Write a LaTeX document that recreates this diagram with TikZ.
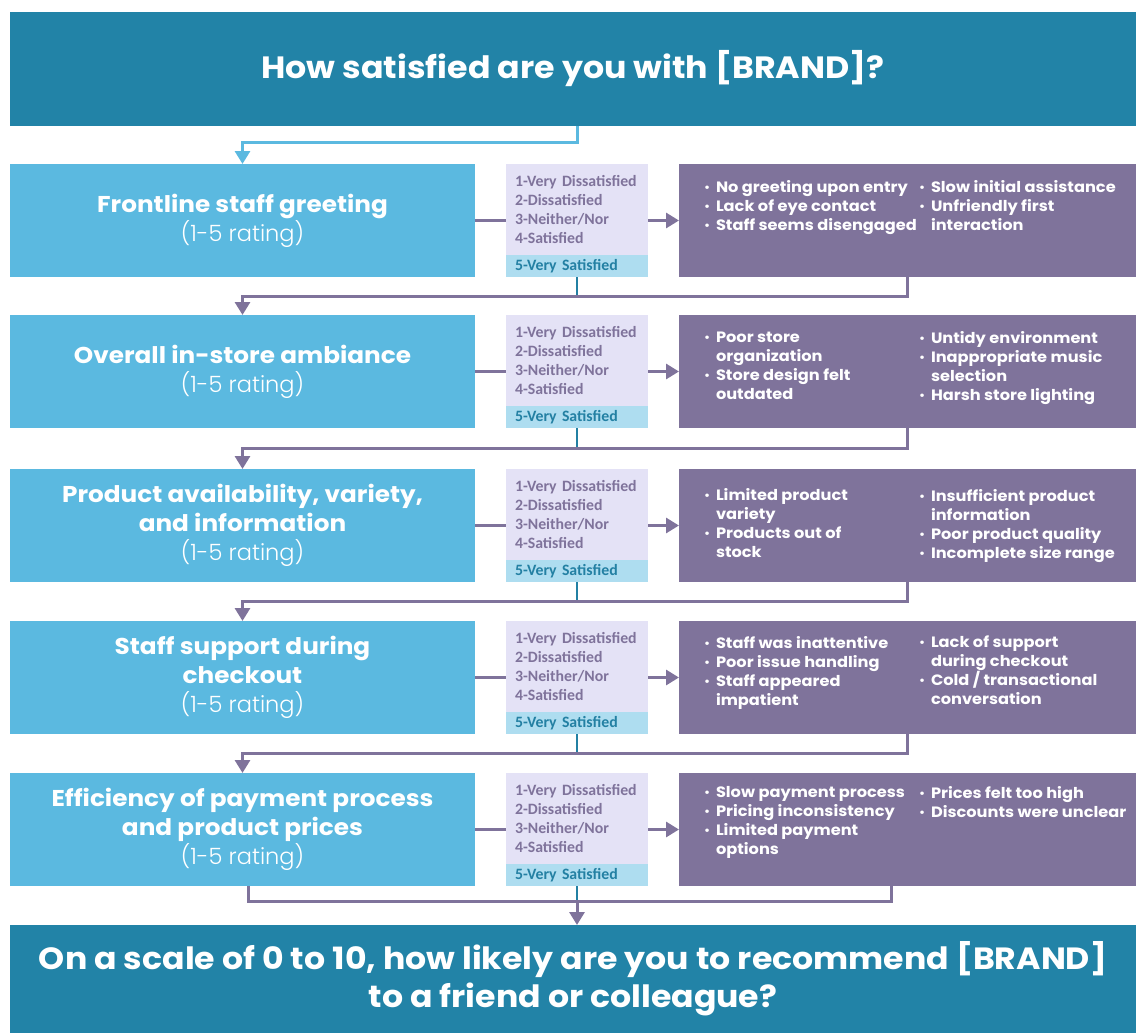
\documentclass[tikz,border=0pt]{standalone}
\usepackage{fontspec}
\setmainfont[FakeStretch=1.08]{Poppins}
\newfontfamily\ratefont{Carlito}
\IfFontExistsTF{Poppins Light}{\newfontfamily\thinfont{Poppins Light}}{\newfontfamily\thinfont{Poppins}}
\usetikzlibrary{arrows.meta,calc}
\definecolor{headteal}{RGB}{34,131,167}
\definecolor{skyblue}{RGB}{91,185,224}
\definecolor{lavender}{RGB}{228,226,246}
\definecolor{paleblue}{RGB}{174,221,240}
\definecolor{plum}{RGB}{127,115,155}
\definecolor{darkteal}{RGB}{35,128,163}
\newcommand\bul{\makebox[12pt][l]{\raisebox{1pt}{\scalebox{0.75}{\textbullet}}}}
\newcommand\hng{\hspace*{12pt}}
\begin{document}
\begin{tikzpicture}[x=1pt,y=-1pt,every node/.style={inner sep=0pt, outer sep=0pt},
  question/.style={anchor=north west, fill=headteal, minimum width=1126pt, text=white, align=center},
  topic/.style={anchor=north west, fill=skyblue, minimum width=465pt, minimum height=113pt, text=white, align=center, font=\fontsize{22.9}{29}\selectfont},
  rate/.style={anchor=north west, fill=lavender, minimum width=142pt, minimum height=91pt, text width=124pt, align=left, text=plum, font=\ratefont\fontsize{15.8}{19}\selectfont\bfseries},
  topfive/.style={rate, fill=paleblue, minimum height=22pt, text=darkteal},
  issue/.style={anchor=north west, fill=plum, minimum width=457pt, minimum height=113pt},
  issuetext/.style={anchor=north west, align=left, text=white, font=\fontsize{15}{19}\selectfont\bfseries},
  line/.style={draw=plum, line width=3pt},
  flow/.style={line, -{Triangle[width=15pt,length=13pt]}},
  stem/.style={draw=darkteal, line width=2.5pt}]
\useasboundingbox (0,0) rectangle (1136,1033);
% questions
\node[question, minimum height=114pt, font=\fontsize{30.8}{34}\selectfont\bfseries] (q) at (10,12) {How satisfied are you with [BRAND]?};
\node[question, minimum height=108pt, font=\fontsize{30.7}{38}\selectfont\bfseries] (nps) at (10,925) {On a scale of 0 to 10, how likely are you to recommend [BRAND]\\to a friend or colleague?};
% row 1
\node[topic] (g1) at (10,164) {\textbf{Frontline staff greeting}\\{\thinfont\fontsize{22.5}{29}\selectfont (1-5 rating)}};
\node[rate] (r1) at (506,164) {1-Very Dissatisfied\\2-Dissatisfied\\3-Neither/Nor\\4-Satisfied};
\node[topfive] (s1) at (506,255) {5-Very Satisfied};
\node[issue] (p1) at (679,164) {};
\node[issuetext] (p1a) at (704,180) {\bul No greeting upon entry\\\bul Lack of eye contact\\\bul Staff seems disengaged};
\node[issuetext] (p1b) at (919,180) {\bul Slow initial assistance\\\bul Unfriendly first\\\hng interaction};
% row 2
\node[topic] (g2) at (10,315) {\textbf{Overall in-store ambiance}\\{\thinfont\fontsize{22.5}{29}\selectfont (1-5 rating)}};
\node[rate] (r2) at (506,315) {1-Very Dissatisfied\\2-Dissatisfied\\3-Neither/Nor\\4-Satisfied};
\node[topfive] (s2) at (506,406) {5-Very Satisfied};
\node[issue] (p2) at (679,315) {};
\node[issuetext] (p2a) at (704,332) {\bul Poor store\\\hng organization\\\bul Store design felt\\\hng outdated};
\node[issuetext] (p2b) at (919,331) {\bul Untidy environment\\\bul Inappropriate music\\\hng selection\\\bul Harsh store lighting};
% row 3
\node[topic] (g3) at (10,469) {\textbf{Product availability, variety,}\\\textbf{and information}\\{\thinfont\fontsize{22.5}{29}\selectfont (1-5 rating)}};
\node[rate] (r3) at (506,469) {1-Very Dissatisfied\\2-Dissatisfied\\3-Neither/Nor\\4-Satisfied};
\node[topfive] (s3) at (506,560) {5-Very Satisfied};
\node[issue] (p3) at (679,469) {};
\node[issuetext] (p3a) at (704,488) {\bul Limited product\\\hng variety\\\bul Products out of\\\hng stock};
\node[issuetext] (p3b) at (919,489) {\bul Insufficient product\\\hng information\\\bul Poor product quality\\\bul Incomplete size range};
% row 4
\node[topic] (g4) at (10,621) {\textbf{Staff support during}\\\textbf{checkout}\\{\thinfont\fontsize{22.5}{29}\selectfont (1-5 rating)}};
\node[rate] (r4) at (506,621) {1-Very Dissatisfied\\2-Dissatisfied\\3-Neither/Nor\\4-Satisfied};
\node[topfive] (s4) at (506,712) {5-Very Satisfied};
\node[issue] (p4) at (679,621) {};
\node[issuetext] (p4a) at (704,636) {\bul Staff was inattentive\\\bul Poor issue handling\\\bul Staff appeared\\\hng impatient};
\node[issuetext] (p4b) at (919,636) {\bul Lack of support\\\hng during checkout\\\bul Cold / transactional\\\hng conversation};
% row 5
\node[topic] (g5) at (10,773) {\textbf{Efficiency of payment process}\\\textbf{and product prices}\\{\thinfont\fontsize{22.5}{29}\selectfont (1-5 rating)}};
\node[rate] (r5) at (506,773) {1-Very Dissatisfied\\2-Dissatisfied\\3-Neither/Nor\\4-Satisfied};
\node[topfive] (s5) at (506,864) {5-Very Satisfied};
\node[issue] (p5) at (679,773) {};
\node[issuetext] (p5a) at (704,786) {\bul Slow payment process\\\bul Pricing inconsistency\\\bul Limited payment\\\hng options};
\node[issuetext] (p5b) at (919,786) {\bul Prices felt too high\\\bul Discounts were unclear};
% connectors
\draw[flow, color=skyblue] (q.south -| r1.north) -- ++(0,16) -| (g1.north);
\draw[line] (g1.east) -- (g1.east -| r1.west);
\draw[flow] (g1.east -| r1.east) -- (p1.west);
\draw[line] (g2.east) -- (g2.east -| r2.west);
\draw[flow] (g2.east -| r2.east) -- (p2.west);
\draw[line] (g3.east) -- (g3.east -| r3.west);
\draw[flow] (g3.east -| r3.east) -- (p3.west);
\draw[line] (g4.east) -- (g4.east -| r4.west);
\draw[flow] (g4.east -| r4.east) -- (p4.west);
\draw[line] (g5.east) -- (g5.east -| r5.west);
\draw[flow] (g5.east -| r5.east) -- (p5.west);
\coordinate (j1) at ($(s1.south)!0.5!(r2.north)$);
\coordinate (j2) at ($(s2.south)!0.5!(r3.north)$);
\coordinate (j3) at ($(s3.south)!0.5!(r4.north)$);
\coordinate (j4) at ($(s4.south)!0.5!(r5.north)$);
\coordinate (j5) at ($(s5.south)+(0,15)$);
\draw[stem] (s1.south) -- (j1);
\draw[flow] (p1.south) |- (j1) -| (g2.north);
\draw[stem] (s2.south) -- (j2);
\draw[flow] (p2.south) |- (j2) -| (g3.north);
\draw[stem] (s3.south) -- (j3);
\draw[flow] (p3.south) |- (j3) -| (g4.north);
\draw[stem] (s4.south) -- (j4);
\draw[flow] (p4.south) |- (j4) -| (g5.north);
\draw[stem] (s5.south) -- (j5);
\draw[line] ([xshift=6pt]g5.south) -- ++(0,15) -| ([xshift=-16pt]p5.south);
\draw[flow] (j5) -- (j5 |- nps.north);
\end{tikzpicture}
\end{document}
